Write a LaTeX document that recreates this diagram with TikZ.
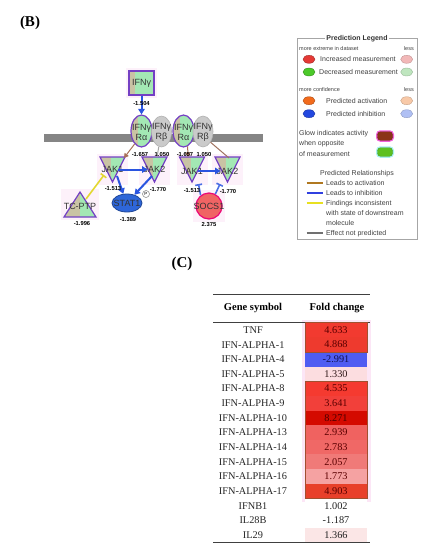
\documentclass[tikz,border=0pt]{standalone}
\usepackage{fontspec}
\setmainfont{Liberation Serif}
\newfontfamily\netfont{Liberation Sans}
\usetikzlibrary{arrows.meta,shapes.geometric,calc}
\definecolor{mgreen}{HTML}{A3E8B4}
\definecolor{mtan}{HTML}{C9C3A4}
\definecolor{mpurple}{HTML}{7440C4}
\definecolor{mgray}{HTML}{CACACA}
\definecolor{membrane}{HTML}{858585}
\definecolor{actblue}{HTML}{2A55E0}
\definecolor{inconsist}{HTML}{E2D830}
\definecolor{actbrown}{HTML}{A87058}
\definecolor{statblue}{HTML}{2E66D8}
\definecolor{socsred}{HTML}{F06464}
\definecolor{glowpink}{HTML}{F8D8F0}
\definecolor{glowsoft}{HTML}{FDF1FA}
\definecolor{lred}{HTML}{E53935}
\definecolor{lredl}{HTML}{F2B8B8}
\definecolor{lgreen}{HTML}{4CC92A}
\definecolor{lgreenl}{HTML}{BFE6BF}
\definecolor{lorange}{HTML}{F26B1D}
\definecolor{lorangel}{HTML}{F8C9A8}
\definecolor{lblue}{HTML}{2348E0}
\definecolor{lbluel}{HTML}{B0C0F4}
\definecolor{glowbrown}{HTML}{8B3418}
\definecolor{glowmag}{HTML}{F060D8}
\definecolor{glowgreen}{HTML}{5CC020}
\definecolor{glowcyan}{HTML}{A8F0F0}
\definecolor{relact}{HTML}{B07820}
\definecolor{relinh}{HTML}{3040E0}
\definecolor{relinc}{HTML}{E8E020}
\definecolor{relnone}{HTML}{707070}
\definecolor{framebrown}{HTML}{A05030}
\definecolor{tabglow}{HTML}{FCE6F6}
\begin{document}
\begin{tikzpicture}[x=1pt,y=-1pt,
  mol/.style={draw=mpurple, line width=1.2pt, fill=mgreen,
    path picture={\fill[mtan] (path picture bounding box.south west) rectangle ($(path picture bounding box.north west)!#1!(path picture bounding box.north east)$);}},
  mol/.default=0.45,
  moltext/.style={font=\netfont\fontsize{9}{10}\selectfont, inner sep=0pt, text=black!80, align=center},
  val/.style={font=\netfont\bfseries\fontsize{5.8}{6}\selectfont, inner sep=0pt},
  actline/.style={draw=actblue, line width=2pt, -{Triangle[length=5.5pt,width=6.5pt]}},
  brownline/.style={draw=actbrown, line width=1pt, -{Triangle[length=4.5pt,width=5pt]}},
  grayline/.style={draw=gray!70, line width=1pt},
  inhline/.style={draw=actblue!85, line width=1.6pt, -{Bar[width=7pt,line width=1.6pt]}},
  incline/.style={draw=inconsist, line width=1.6pt, -{Bar[width=7pt,line width=1.6pt]}},
  legtext/.style={font=\netfont\fontsize{7}{8}\selectfont, anchor=west, inner sep=0pt, text=black!75},
  legsmall/.style={font=\netfont\fontsize{5.5}{6}\selectfont, inner sep=0pt, text=black!75},
  legdot/.style={ellipse, minimum width=12pt, minimum height=8pt, inner sep=0pt},
  tabtext/.style={font=\fontsize{10.3}{11}\selectfont, inner sep=0pt, text=black!85},
  tabhead/.style={font=\bfseries\fontsize{10.5}{11}\selectfont, inner sep=0pt},
  paneltag/.style={font=\bfseries\fontsize{15}{16}\selectfont, inner sep=0pt}
]
\useasboundingbox (0,0) rectangle (424,550);

% panel tags
\node[paneltag] (tagB) at (30,23) {(B)};
\node[paneltag] (tagC) at (182,264) {(C)};

% soft glows behind molecules
\fill[glowsoft] (126,68) rectangle (157,98);
\fill[glowsoft] (97,154) rectangle (128,185);
\fill[glowsoft] (139,154) rectangle (170,185);
\fill[glowsoft] (176.5,154) rectangle (207.5,185);
\fill[glowsoft] (212,154) rectangle (243,185);
\fill[glowsoft] (61,189) rectangle (99,220);
\fill[glowsoft] (193,190) rectangle (225,222);

% membrane
\fill[membrane] (44,134) rectangle (263,142);

% ligand
\node[mol=0.25, rectangle, minimum width=25pt, minimum height=24pt, inner sep=0pt] (ifng) at (141.5,83) {};
\node[moltext] (ifngt) at (141.5,83) {IFNγ};

% receptors
\node[mol=0.35, ellipse, minimum width=21pt, minimum height=32pt, inner sep=0pt] (ra1) at (141.5,131) {};
\node[draw=gray!60, fill=mgray, line width=0.6pt, ellipse, minimum width=20pt, minimum height=31pt, inner sep=0pt] (rb1) at (161.5,131.5) {};
\node[mol=0.35, ellipse, minimum width=21pt, minimum height=32pt, inner sep=0pt] (ra2) at (183.5,131) {};
\node[draw=gray!60, fill=mgray, line width=0.6pt, ellipse, minimum width=20pt, minimum height=31pt, inner sep=0pt] (rb2) at (203,131.5) {};
\node[moltext] (ra1t) at (141.5,132) {IFNγ\\Rα};
\node[moltext] (rb1t) at (161.5,132) {IFNγ\\Rβ};
\node[moltext] (ra2t) at (183.5,132) {IFNγ\\Rα};
\node[moltext] (rb2t) at (203,132) {IFNγ\\Rβ};

% kinases (down triangles)
\draw[mol] (100,157) -- (125,157) -- (112.5,182) -- cycle;
\draw[mol] (142,157) -- (167,157) -- (154.5,182) -- cycle;
\draw[mol] (179.5,157) -- (204.5,157) -- (192,182) -- cycle;
\draw[mol] (215,157) -- (240,157) -- (227.5,182) -- cycle;
\node[moltext] (jak1a) at (112.5,169.5) {JAK1};
\node[moltext] (jak2a) at (154.5,169.5) {JAK2};
\node[moltext] (jak1b) at (192,171) {JAK1};
\node[moltext] (jak2b) at (227.5,171) {JAK2};

% TC-PTP (up triangle)
\draw[mol=0.5] (64,217) -- (96,217) -- (80,192) -- cycle;
\node[moltext] (tcptp) at (80,206) {TC-PTP};

% STAT1
\node[ellipse, minimum width=30pt, minimum height=18pt, inner sep=0pt, fill=statblue, draw=statblue!70!black, line width=0.8pt] (stat1) at (127,203) {};
\node[moltext] (stat1t) at (127,203) {STAT1};
\node[circle, draw=gray, fill=white, line width=0.5pt, minimum size=7pt, inner sep=0pt, font=\netfont\fontsize{4.5}{5}\selectfont] (pmark) at (146,194) {P};

% SOCS1
\node[circle, minimum size=26pt, inner sep=0pt, fill=socsred, draw=magenta!80!red, line width=1.2pt] (socs1) at (209,206) {};
\node[moltext] (socs1t) at (209,206) {SOCS1};

% connector end points on triangles
\coordinate (jak1a-in) at (124,158);
\coordinate (jak2a-in) at (157,157);
\coordinate (jak1b-in) at (188,157);
\coordinate (jak2b-in) at (229,158);
\coordinate (jak1a-out) at (117,176);
\coordinate (jak2a-out) at (152,176);
\coordinate (jak1b-bar) at (198.5,184);
\coordinate (jak2b-bar) at (220,184);
\coordinate (jak1a-bar) at (104,175);
\coordinate (tcptp-out) at (86,199);

% connectors
\draw[actline] (ifng) -- (ra1);
\draw[brownline] (ra1.-118) -- (jak1a-in);
\draw[grayline] (rb1.-100) -- (jak2a-in);
\draw[brownline] (ra2.-75) -- (jak1b-in);
\draw[grayline, draw=actbrown!80!gray] (rb2.-55) -- (jak2b-in);
\draw[actline] ([xshift=-5pt]jak1a.east) -- ([xshift=4pt]jak2a.west);
\draw[actline] ([xshift=-5pt]jak1b.east) -- ([xshift=4pt]jak2b.west);
\draw[actline] (jak1a-out) -- (stat1.112);
\draw[actline] (jak2a-out) -- (stat1.48);
\draw[inhline] (socs1.128) -- (jak1b-bar);
\draw[inhline] (socs1.62) -- (jak2b-bar);
\draw[incline] (tcptp-out) -- (jak1a-bar);

% values
\node[val] (v-ifng) at (141.5,103) {-1.504};
\node[val] (v-ra1) at (140,154) {-1.657};
\node[val] (v-rb1) at (162,154) {1.050};
\node[val] (v-ra2) at (185,154) {-1.657};
\node[val] (v-rb2) at (204,154) {1.050};
\node[val] (v-jak1a) at (113,189) {-1.513};
\node[val] (v-jak2a) at (158,189) {-1.770};
\node[val] (v-jak1b) at (192,191) {-1.513};
\node[val] (v-jak2b) at (228,191) {-1.770};
\node[val] (v-stat1) at (128,220) {-1.389};
\node[val] (v-tcptp) at (82,223) {-1.996};
\node[val] (v-socs1) at (209,225) {2.375};

% ===== legend =====
\draw[draw=gray!70, line width=0.6pt] (297.3,38.3) rectangle (417.7,239.3);
\node[font=\netfont\bfseries\fontsize{7}{8}\selectfont, fill=white, inner sep=1pt, text=black!80] (lg-title) at (357,38.3) {Prediction Legend};
\node[legsmall, anchor=west] (lg-ext) at (299,49) {more extreme in dataset};
\node[legsmall, anchor=east] (lg-less1) at (414,49) {less};
\node[legdot, fill=lred, draw=lred!70!black] (lg-r) at (309,59.3) {};
\node[legtext] (lg-inc) at (320,59.3) {Increased measurement};
\node[legdot, fill=lredl, draw=lredl!80!black] (lg-rl) at (406.7,59.3) {};
\node[legdot, fill=lgreen, draw=lgreen!70!black] (lg-g) at (309,72) {};
\node[legtext] (lg-dec) at (319,72) {Decreased measurement};
\node[legdot, fill=lgreenl, draw=lgreenl!80!black] (lg-gl) at (406.7,72) {};
\node[legsmall, anchor=west] (lg-conf) at (299,90) {more confidence};
\node[legsmall, anchor=east] (lg-less2) at (414,90) {less};
\node[legdot, fill=lorange, draw=lorange!70!black] (lg-o) at (309,100.7) {};
\node[legtext] (lg-act) at (326,100.7) {Predicted activation};
\node[legdot, fill=lorangel, draw=lorangel!80!black] (lg-ol) at (406.7,100.7) {};
\node[legdot, fill=lblue, draw=lblue!70!black] (lg-b) at (309,113.7) {};
\node[legtext] (lg-inh) at (326,113.7) {Predicted inhibition};
\node[legdot, fill=lbluel, draw=lbluel!80!black] (lg-bl) at (406.7,113.7) {};
\node[legtext] (lg-glow1) at (299,133.3) {Glow indicates activity};
\node[legtext] (lg-glow2) at (299,144) {when opposite};
\node[legtext] (lg-glow3) at (299,154.3) {of measurement};
\node[rectangle, rounded corners=3pt, minimum width=15pt, minimum height=8.5pt, inner sep=0pt, fill=glowbrown, draw=glowbrown!80!black, preaction={draw=glowmag, line width=3pt}] (lg-gb) at (385,136) {};
\node[rectangle, rounded corners=3pt, minimum width=15pt, minimum height=8.5pt, inner sep=0pt, fill=glowgreen, draw=glowgreen!80!black, preaction={draw=glowcyan, line width=3pt}] (lg-gg) at (385,152) {};
\node[legtext, anchor=center] (lg-rel) at (357,173.3) {Predicted Relationships};
\coordinate (r1a) at (306.7,183.3); \coordinate (r1b) at (323.3,183.3);
\coordinate (r2a) at (306.7,193.3); \coordinate (r2b) at (323.3,193.3);
\coordinate (r3a) at (306.7,203.3); \coordinate (r3b) at (323.3,203.3);
\coordinate (r4a) at (306.7,233.3); \coordinate (r4b) at (323.3,233.3);
\draw[draw=relact, line width=1.8pt] (r1a) -- (r1b);
\draw[draw=relinh, line width=1.8pt] (r2a) -- (r2b);
\draw[draw=relinc, line width=1.8pt] (r3a) -- (r3b);
\draw[draw=relnone, line width=1.8pt] (r4a) -- (r4b);
\node[legtext] (lg-r1) at (326,183.3) {Leads to activation};
\node[legtext] (lg-r2) at (326,193.3) {Leads to inhibition};
\node[legtext] (lg-r3) at (326,203.3) {Findings inconsistent};
\node[legtext] (lg-r3b) at (326,213.3) {with state of downstream};
\node[legtext] (lg-r3c) at (326,223.3) {molecule};
\node[legtext] (lg-r4) at (326,233.3) {Effect not predicted};

% ===== table =====
\fill[tabglow] (301.5,319.5) rectangle (371,502);
\draw[line width=0.8pt, black!75] (213,294.3) -- (370,294.3);
\node[tabhead] (h1) at (253,308) {Gene symbol};
\node[tabhead] (h2) at (337,308) {Fold change};
\draw[line width=0.5pt, black!75] (213,322) -- (370,322);
\foreach \g/\v/\c/\t [count=\i] in {
  TNF/4.633/F23A30/5A0000,
  IFN-ALPHA-1/4.868/EE3A2E/5A0000,
  IFN-ALPHA-4/-2.991/4F5CF2/101050,
  IFN-ALPHA-5/1.330/FCDDE0/301818,
  IFN-ALPHA-8/4.535/F53A30/5A0000,
  IFN-ALPHA-9/3.641/F2403A/5A0000,
  IFN-ALPHA-10/8.271/D40A00/4A0000,
  IFN-ALPHA-13/2.939/F06260/5A0000,
  IFN-ALPHA-14/2.783/F06866/5A0000,
  IFN-ALPHA-15/2.057/F07A78/5A0000,
  IFN-ALPHA-16/1.773/F5A2A2/5A0000,
  IFN-ALPHA-17/4.903/E8402A/5A0000,
  IFNB1/1.002/FFFFFF/202020,
  IL28B/-1.187/FFFFFF/202020,
  IL29/1.366/FBE6E6/202020}{
  \pgfmathsetmacro\yy{330+14.64*(\i-1)}
  \definecolor{cellc}{HTML}{\c}
  \definecolor{celltxt}{HTML}{\t}
  \fill[cellc] (305,\yy-7.32) rectangle (367,\yy+7.32);
  \node[tabtext] (g\i) at (253,\yy) {\g};
  \node[tabtext, text=celltxt] (v\i) at (336,\yy) {\v};
}
\draw[framebrown, line width=0.5pt] (305,322.7) rectangle (367,352);
\draw[framebrown, line width=0.5pt] (305,381.2) rectangle (367,498.4);
\draw[line width=0.8pt, black!75] (213,542.5) -- (370,542.5);
\end{tikzpicture}
\end{document}
